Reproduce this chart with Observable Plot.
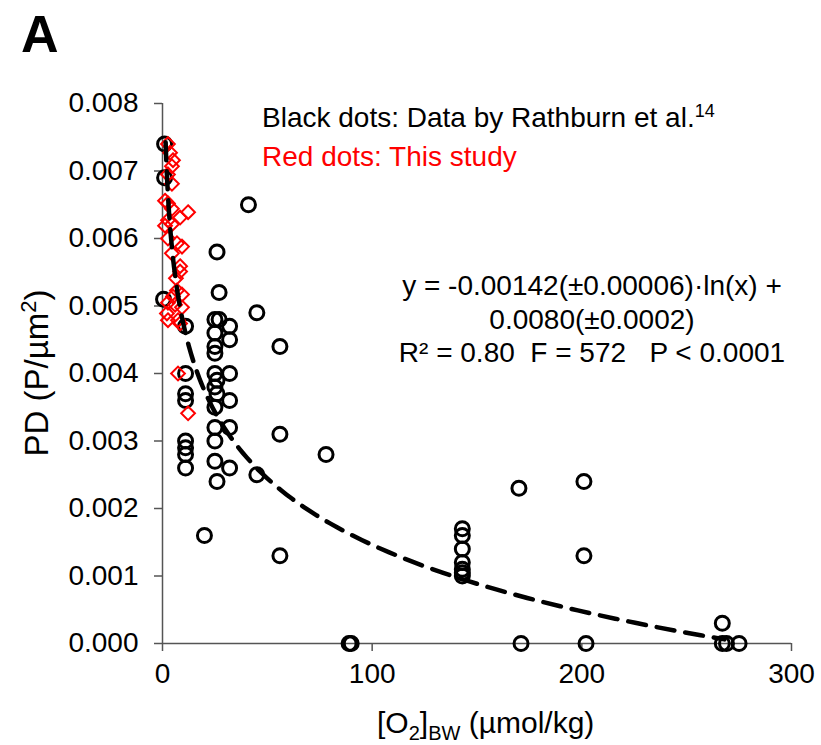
<!DOCTYPE html>
<html><head><meta charset="utf-8">
<script src="https://cdn.jsdelivr.net/npm/d3@7"></script>
<script src="https://cdn.jsdelivr.net/npm/@observablehq/plot@0.6"></script>
<style>body{margin:0;background:#fff;} #chart svg{display:block;}</style>
</head><body><div id="chart"></div>
<script>
// Black dots: data by Rathburn et al.
const blackX = [1, 1, 0.5,
  11, 11, 11, 11, 11, 11, 11, 11,
  26, 27, 25, 27, 25, 25, 25, 25, 26, 25, 26, 25, 25, 25, 25, 26,
  32, 32, 32, 32, 32, 32,
  41, 45, 45, 20, 56, 56, 56, 78,
  89, 90,
  143, 143, 143, 143, 143, 143, 143,
  170, 171, 201, 201, 202,
  267, 267, 269, 275];
const blackY = [0.0074, 0.0069, 0.0051,
  0.0047, 0.0040, 0.0037, 0.0036, 0.0030, 0.0029, 0.0028, 0.0026,
  0.0058, 0.0052, 0.0048, 0.0048, 0.0046, 0.0044, 0.0043, 0.0040, 0.0039, 0.0038, 0.0037, 0.0035, 0.0032, 0.0030, 0.0027, 0.0024,
  0.0047, 0.0045, 0.0040, 0.0036, 0.0032, 0.0026,
  0.0065, 0.0049, 0.0025, 0.0016, 0.0044, 0.0031, 0.0013, 0.0028,
  0, 0,
  0.0017, 0.0016, 0.0014, 0.0012, 0.0011, 0.00105, 0.0010,
  0.0023, 0, 0.0024, 0.0013, 0,
  0.0003, 0, 0, 0];
// Red dots: this study
const redX = [2.6, 3.6, 5.0, 4.5, 2.6, 4.5, 1.2, 2.6, 4.5, 12.2, 8.4, 2.6, 1.2, 4.5, 2.6, 6.9, 9.3,
  4.5, 8.4, 8.4, 6.4, 6.9, 9.3, 5.0, 2.6, 6.0, 9.3, 2.1, 2.6, 7.4, 8.4, 7.4, 12.2];
const redY = [0.0074, 0.00727, 0.00716, 0.00707, 0.00695, 0.00681, 0.00656, 0.00652, 0.00644, 0.00639, 0.00631, 0.00627, 0.00619, 0.00621, 0.0060, 0.00593, 0.00588,
  0.00578, 0.00559, 0.00551, 0.00541, 0.00523, 0.00517, 0.00514, 0.00505, 0.00502, 0.00498, 0.00489, 0.00479, 0.00479, 0.00474, 0.0040, 0.00341];
// Logarithmic fit shown on the chart: y = a·ln(x) + b
const fitSlope = -0.00142;
const fitIntercept = 0.0080;
const fitRange = [1.5, 268];
const xTicks = [0, 100, 200, 300];
const yTicks = [0, 0.001, 0.002, 0.003, 0.004, 0.005, 0.006, 0.007, 0.008];

const black = blackX.map((x, i) => ({x, y: blackY[i]}));
const red = redX.map((x, i) => ({x, y: redY[i]}));
const fit = d3.range(0, 121).map(i => {
  const x = fitRange[0] * Math.pow(fitRange[1] / fitRange[0], i / 120);
  return {x, y: fitSlope * Math.log(x) + fitIntercept};
});

const axisColor = "#555";
const plot = Plot.plot({
  width: 821, height: 745,
  marginLeft: 162, marginRight: 30, marginTop: 103, marginBottom: 102,
  x: {domain: [0, 300]},
  y: {domain: [0, 0.008]},
  style: {fontFamily: "'Liberation Sans', Arial, sans-serif", fontSize: "28px", color: "#000", background: "#fff", overflow: "visible"},
  marks: [
    Plot.ruleX([0], {y1: 0, y2: 0.008, stroke: axisColor, strokeWidth: 1.5}),
    Plot.ruleY([0], {stroke: axisColor, strokeWidth: 1.5}),
    Plot.axisX({ticks: xTicks, tickSize: 8, tickPadding: 12, label: null, stroke: axisColor, strokeWidth: 1.5, tickFormat: d3.format("d")}),
    Plot.axisY({ticks: yTicks, tickSize: 8, tickPadding: 16, label: null, stroke: axisColor, strokeWidth: 1.5, tickFormat: d3.format(".3f")}),
    Plot.dot(black, {x: "x", y: "y", r: 7, stroke: "#000", strokeWidth: 3, fill: "none"}),
    Plot.dot(red, {x: "x", y: "y", symbol: "diamond2", r: 6.2, stroke: "#ff0000", strokeWidth: 2, fill: "none"}),
    Plot.line(fit, {x: "x", y: "y", stroke: "#000", strokeWidth: 4.5, strokeDasharray: "18,11", curve: "linear"})
  ]
});
document.getElementById("chart").appendChild(plot);

const svg = d3.select(plot);
const font = "'Liberation Sans', Arial, sans-serif";
function addText(x, y, opts = {}) {
  return svg.append("text").attr("x", x).attr("y", y)
    .attr("font-family", font).attr("font-size", opts.size || 28)
    .attr("fill", opts.fill || "#000")
    .attr("font-weight", opts.weight || "normal")
    .attr("text-anchor", opts.anchor || "start")
    .style("white-space", "pre");
}
// Panel letter
addText(21, 52, {size: 52, weight: "bold"}).text("A");
// Legend notes
const t1 = addText(262, 127);
t1.append("tspan").text("Black dots: Data by Rathburn et al.");
t1.append("tspan").attr("font-size", 18).attr("dy", -10).text("14");
addText(262, 166, {fill: "#ff0000"}).text("Red dots: This study");
// Equation
addText(592, 295, {anchor: "middle"}).text("y = -0.00142(\u00B10.00006)\u00B7ln(x) +");
addText(592, 329, {anchor: "middle"}).text("0.0080(\u00B10.0002)");
addText(592, 362, {anchor: "middle"}).text("R\u00B2 = 0.80  F = 572   P < 0.0001");
// X axis title
const xl = addText(377, 733, {size: 30});
xl.append("tspan").text("[O");
xl.append("tspan").attr("font-size", 20).attr("dy", 7).text("2");
xl.append("tspan").attr("dy", -7).text("]");
xl.append("tspan").attr("font-size", 20).attr("dy", 7).text("BW");
xl.append("tspan").attr("dy", -7).text(" (\u00B5mol/kg)");
// Y axis title
const yl = svg.append("text")
  .attr("transform", "translate(48,373) rotate(-90)")
  .attr("font-family", font).attr("font-size", 33).attr("text-anchor", "middle");
yl.append("tspan").text("PD (P/\u00B5m");
yl.append("tspan").attr("font-size", 22).attr("dy", -12).text("2");
yl.append("tspan").attr("dy", 12).text(")");
</script>
</body></html>
